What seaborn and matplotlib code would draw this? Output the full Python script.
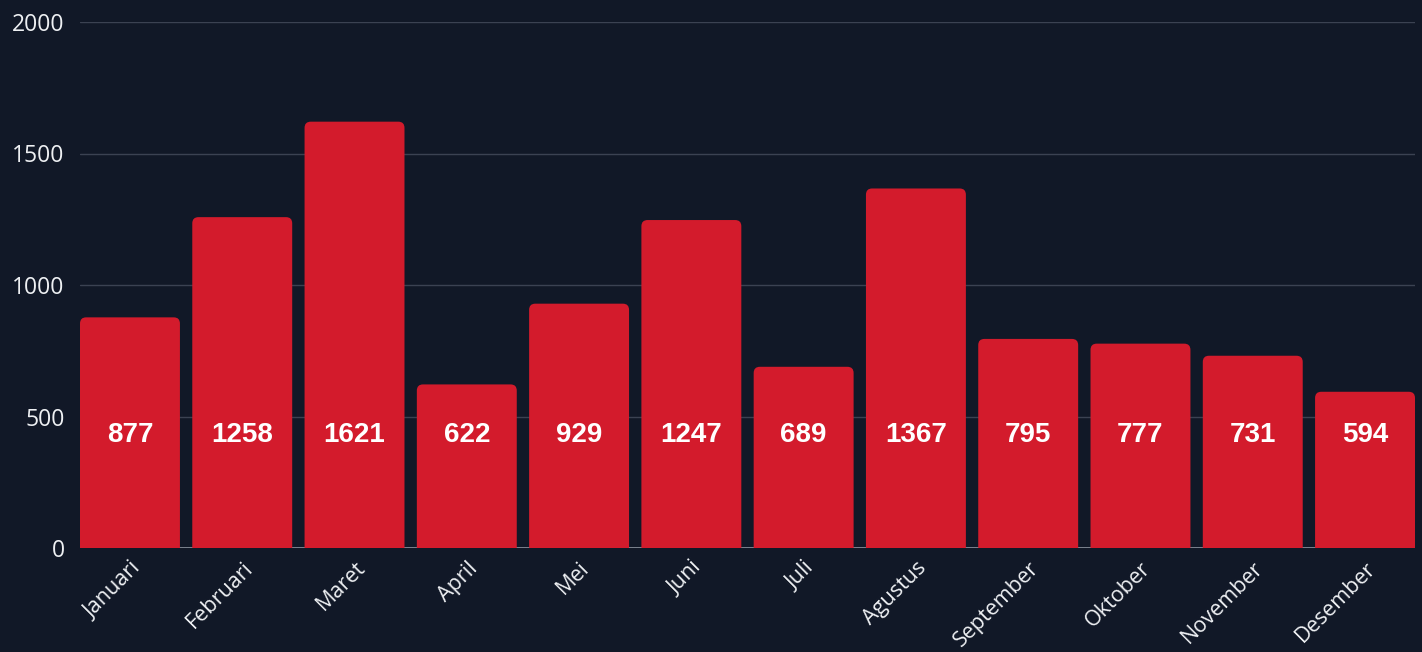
import matplotlib
matplotlib.use("Agg")
import matplotlib.pyplot as plt
from matplotlib.patches import FancyBboxPatch
import seaborn as sns
import pandas as pd

months = ["Januari", "Februari", "Maret", "April", "Mei", "Juni", "Juli",
          "Agustus", "September", "Oktober", "November", "Desember"]
values = [877, 1258, 1621, 622, 929, 1247, 689, 1367, 795, 777, 731, 594]
y_ticks = [0, 500, 1000, 1500, 2000]

BG = "#111827"
RED = "#D31B2C"
BAR_W = 0.89

sns.set_theme(style="dark")
plt.rcParams["font.family"] = ["Open Sans", "DejaVu Sans"]

df = pd.DataFrame({"month": months, "value": values})

fig = plt.figure(figsize=(14.22, 6.52), dpi=100, facecolor=BG)
ax = fig.add_axes([80 / 1422, 1 - 548 / 652, 1335 / 1422, 526 / 652])
ax.set_facecolor(BG)

sns.barplot(data=df, x="month", y="value", color=RED, saturation=1,
            width=BAR_W, ax=ax, zorder=2)

ax.set_ylim(0, 2000)
ax.set_xlim(-BAR_W / 2, len(months) - 1 + BAR_W / 2)

# rounded tops on the bars
x_px = 1335 / (len(months) - 1 + BAR_W)
y_px = 526 / 2000
for p in list(ax.patches):
    x0, w, h = p.get_x(), p.get_width(), p.get_height()
    rb = FancyBboxPatch((x0, -60), w, h + 60,
                        boxstyle="round,pad=0,rounding_size=0.055",
                        mutation_aspect=x_px / y_px,
                        facecolor=RED, edgecolor="none", zorder=2)
    p.remove()
    ax.add_patch(rb)

# value labels
for i, v in enumerate(values):
    ax.text(i, 428, str(v), ha="center", va="center", color="white",
            fontsize=20, fontweight="bold", family=["Liberation Sans", "DejaVu Sans"],
            zorder=3)

ax.set_yticks(y_ticks)
ax.set_yticklabels([str(t) for t in y_ticks])
ax.grid(axis="y", color="#3b4252", linewidth=1, zorder=0)
ax.grid(axis="x", visible=False)
ax.axhline(0, color="#8c939e", linewidth=1.2, zorder=1)

for s in ax.spines.values():
    s.set_visible(False)

ax.tick_params(axis="y", colors="#eef0f3", labelsize=16.5, length=0, pad=11)
ax.tick_params(axis="x", colors="#eef0f3", labelsize=15.5, length=0, pad=7)
for lbl in ax.get_xticklabels():
    lbl.set_rotation(45)
    lbl.set_ha("right")
    lbl.set_va("top")
    lbl.set_rotation_mode("anchor")
    lbl.set_color("#eef0f3")
for lbl in ax.get_yticklabels():
    lbl.set_color("#eef0f3")

ax.set_xlabel("")
ax.set_ylabel("")

fig.savefig("out.png", dpi=100, facecolor=BG)
